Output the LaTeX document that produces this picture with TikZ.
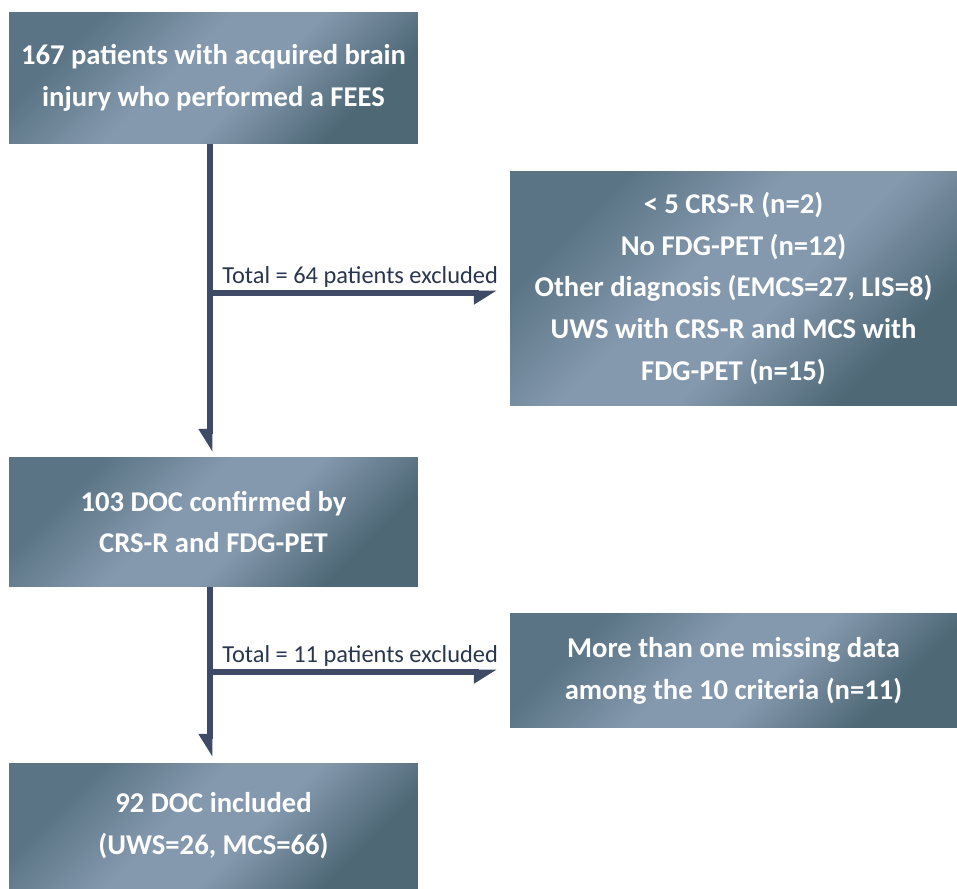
\documentclass[tikz,border=0pt]{standalone}
\usepackage{fontspec}
\setmainfont{Carlito}
\usepackage{tikz}
\usetikzlibrary{arrows.meta}

\definecolor{boxdark}{HTML}{5A7485}
\definecolor{boxdarkb}{HTML}{4E6876}
\definecolor{boxlight}{HTML}{8599AE}
\definecolor{arrowblue}{HTML}{3F4B66}
\definecolor{labelblue}{HTML}{2A3650}

% soft diagonal band, dark corners
\pgfdeclareverticalshading{flowshade}{100bp}{color(0bp)=(boxdarkb); color(27bp)=(boxdarkb);
  color(44bp)=(boxlight); color(56bp)=(boxlight); color(73bp)=(boxdark); color(100bp)=(boxdark)}

\tikzset{
  flowbox/.style={shading=flowshade, shading angle=45, text=white,
    font=\fontsize{16.3}{23.8}\selectfont\bfseries, align=center,
    inner sep=0pt, outer sep=0pt},
  flowarrow/.style={draw=arrowblue, line width=3.4pt,
    -{Triangle[right, length=10.8pt, width=12.5pt]}},
  exclabel/.style={text=labelblue, font=\fontsize{13.9}{16}\selectfont,
    inner sep=0pt, anchor=base west}
}

\begin{document}
\begin{tikzpicture}[x=0.02cm, y=-0.02cm]
        \useasboundingbox (0,0) rectangle (957,889);

        % Boxes
        \node[flowbox, minimum width=8.18cm, minimum height=2.64cm] (start) at (213.5,78)
          {167 patients with acquired brain\\injury who performed a FEES};
        \node[flowbox, minimum width=8.94cm, minimum height=4.7cm] (excl1) at (733.5,288.5)
          {< 5 CRS-R (n=2)\\No FDG-PET (n=12)\\Other diagnosis (EMCS=27, LIS=8)\\UWS with CRS-R and MCS with\\FDG-PET (n=15)};
        \node[flowbox, minimum width=8.18cm, minimum height=2.6cm] (doc) at (213.5,522)
          {103 DOC confirmed by\\CRS-R and FDG-PET};
        \node[flowbox, minimum width=8.94cm, minimum height=2.3cm] (excl2) at (733.5,670.5)
          {More than one missing data\\among the 10 criteria (n=11)};
        \node[flowbox, minimum width=8.18cm, minimum height=2.52cm] (final) at (213.5,826)
          {92 DOC included\\(UWS=26, MCS=66)};

        % Coordinates
        \coordinate (top1) at (210,144);
        \coordinate (split1) at (210,293);
        \coordinate (end1) at (210,452);
        \coordinate (top2) at (210,587);
        \coordinate (split2) at (210,672);
        \coordinate (end2) at (210,757);

        % Arrows
        \draw[flowarrow] (top1) -- (end1);
        \draw[flowarrow] (split1) -- ([xshift=-0.26cm]excl1.west |- split1);
        \draw[flowarrow] (top2) -- (end2);
        \draw[flowarrow] (split2) -- ([xshift=-0.26cm]excl2.west |- split2);

        % Labels
        \node[exclabel] (lbl1) at (222,283) {Total = 64 patients excluded};
        \node[exclabel] (lbl2) at (222,662) {Total = 11 patients excluded};
\end{tikzpicture}
\end{document}
